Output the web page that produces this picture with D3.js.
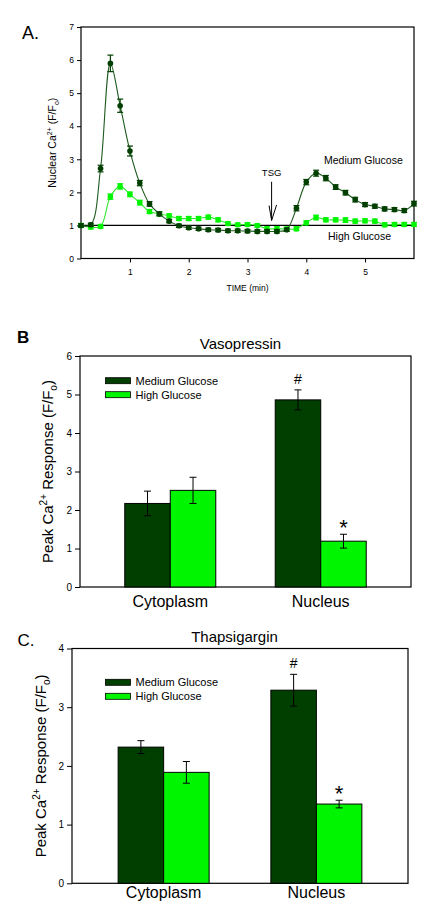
<!DOCTYPE html>
<html><head><meta charset="utf-8">
<script src="https://cdn.jsdelivr.net/npm/d3@7"></script>
<style>body{margin:0;background:#fff}svg{display:block;font-family:"Liberation Sans",Arial,sans-serif}</style>
</head><body>
<script>
// ---------- Panel A data ----------
const timeA = [0.167,0.333,0.5,0.667,0.833,1.0,1.167,1.333,1.5,1.667,1.833,2.0,2.167,2.333,2.5,2.667,2.833,3.0,3.167,3.333,3.5,3.667,3.833,4.0,4.167,4.333,4.5,4.667,4.833,5.0,5.167,5.333,5.5,5.667,5.833];
const mediumA = [1.0,1.02,2.72,5.9,4.62,3.25,2.28,1.65,1.35,1.13,0.99,0.93,0.9,0.87,0.86,0.84,0.84,0.83,0.82,0.82,0.82,0.87,1.52,2.31,2.58,2.43,2.16,1.99,1.78,1.63,1.58,1.5,1.48,1.45,1.66];
const mediumErrA = [0.05,0.05,0.1,0.25,0.2,0.15,0.08,0.07,0.06,0.05,0.05,0.05,0.05,0.05,0.05,0.05,0.05,0.05,0.05,0.05,0.05,0.05,0.08,0.08,0.09,0.08,0.07,0.07,0.07,0.06,0.06,0.06,0.06,0.06,0.07];
const highA = [1.0,0.95,0.97,1.87,2.18,1.94,1.69,1.42,1.35,1.29,1.21,1.21,1.21,1.25,1.17,1.06,1.02,1.03,1.0,0.9,0.9,0.89,0.9,1.08,1.24,1.17,1.17,1.16,1.13,1.14,1.13,1.02,1.03,1.03,1.03];
const highErrA = [0.06,0.06,0.05,0.08,0.08,0.07,0.07,0.06,0.06,0.06,0.06,0.06,0.06,0.06,0.06,0.05,0.05,0.05,0.05,0.06,0.06,0.06,0.06,0.06,0.07,0.06,0.06,0.07,0.06,0.06,0.06,0.06,0.06,0.06,0.06];
const xTicksA = [1,2,3,4,5];
const yTicksA = [0,1,2,3,4,5,6,7];
const tsgTime = 3.41;

// ---------- Panels B/C data ----------
const categories = ["Cytoplasm","Nucleus"];
const seriesNames = ["Medium Glucose","High Glucose"];
const vasoMedium = [2.17,4.86];
const vasoMediumErr = [0.32,0.26];
const vasoHigh = [2.51,1.19];
const vasoHighErr = [0.34,0.18];
const thapMedium = [2.32,3.29];
const thapMediumErr = [0.11,0.27];
const thapHigh = [1.89,1.35];
const thapHighErr = [0.185,0.065];
const yTicksB = [0,1,2,3,4,5,6];
const yTicksC = [0,1,2,3,4];

const DARK = "#003f00", LIGHT = "#00f500";
const DARKLINE = "#1f5a1f", LIGHTLINE = "#33e633";
const intFmt = d3.format("d");

const svg = d3.select("body").append("svg").attr("width",442).attr("height",912);

// ================= Panel A =================
(function(){
  const L=81,R=414,T=27,B=258.5;
  const x = d3.scaleLinear().domain([0.167,5.833]).range([L,R]);
  const y = d3.scaleLinear().domain([0,7]).range([B,T]);
  const g = svg.append("g");
  g.append("rect").attr("x",L).attr("y",T).attr("width",R-L).attr("height",B-T).attr("fill","none").attr("stroke","#000").attr("stroke-width",1.2);
  const ya = g.append("g").attr("transform",`translate(${L},0)`).call(d3.axisLeft(y).tickValues(yTicksA).tickFormat(intFmt).tickSize(4).tickSizeOuter(0));
  const xa = g.append("g").attr("transform",`translate(0,${B})`).call(d3.axisBottom(x).tickValues(xTicksA).tickFormat(intFmt).tickSize(4).tickPadding(6).tickSizeOuter(0));
  [ya,xa].forEach(a=>{a.select(".domain").remove();a.selectAll("text").attr("font-size",8.5).attr("font-family","Liberation Sans, Arial");});
  // baseline at 1
  g.append("line").attr("x1",L).attr("x2",R).attr("y1",y(1)).attr("y2",y(1)).attr("stroke","#000").attr("stroke-width",1.2);
  const series = [
    {vals:highA, err:highErrA, col:LIGHT, line:LIGHTLINE},
    {vals:mediumA, err:mediumErrA, col:DARK, line:DARKLINE}
  ];
  series.forEach(s=>{
    const pts = timeA.map((t,i)=>({t,v:s.vals[i],e:s.err[i]}));
    const line = d3.line().x(d=>x(d.t)).y(d=>y(d.v)).curve(d3.curveCatmullRom.alpha(0.5));
    g.append("path").attr("d",line(pts)).attr("fill","none").attr("stroke",s.line).attr("stroke-width",1.1);
    const eb = g.append("g").attr("stroke",s.col).attr("stroke-width",1.2);
    pts.forEach(d=>{
      eb.append("line").attr("x1",x(d.t)).attr("x2",x(d.t)).attr("y1",y(d.v-d.e)).attr("y2",y(d.v+d.e));
      eb.append("line").attr("x1",x(d.t)-3).attr("x2",x(d.t)+3).attr("y1",y(d.v-d.e)).attr("y2",y(d.v-d.e));
      eb.append("line").attr("x1",x(d.t)-3).attr("x2",x(d.t)+3).attr("y1",y(d.v+d.e)).attr("y2",y(d.v+d.e));
    });
    g.append("g").selectAll("circle").data(pts).join("circle")
      .attr("cx",d=>x(d.t)).attr("cy",d=>y(d.v)).attr("r",2.8).attr("fill",s.col);
  });
  // TSG arrow
  const ax = x(tsgTime);
  g.append("line").attr("x1",ax).attr("x2",ax).attr("y1",y(2.32)).attr("y2",y(1.15)).attr("stroke","#000");
  g.append("path").attr("d",`M${ax-2.5},${y(1.6)} L${ax},${y(1.15)} L${ax+5},${y(1.62)}`).attr("fill","none").attr("stroke","#000");
  g.append("text").attr("x",ax).attr("y",176).attr("text-anchor","middle").attr("font-size",9.5).text("TSG");
  g.append("text").attr("x",324).attr("y",164).attr("font-size",10.5).text("Medium Glucose");
  g.append("text").attr("x",328).attr("y",239.5).attr("font-size",10.5).text("High Glucose");
  g.append("text").attr("x",(L+R)/2).attr("y",291).attr("text-anchor","middle").attr("font-size",8.5).text("TIME (min)");
  const yl = g.append("text").attr("transform",`translate(56,${(T+B)/2}) rotate(-90)`).attr("text-anchor","middle").attr("font-size",10.5);
  yl.append("tspan").text("Nuclear Ca");
  yl.append("tspan").attr("font-size",7).attr("dy",-4).text("2+");
  yl.append("tspan").attr("dy",4).text(" (F/F");
  yl.append("tspan").attr("font-size",7).attr("dy",3).text("o");
  yl.append("tspan").attr("dy",-3).text(")");
  svg.append("text").attr("x",22).attr("y",39).attr("font-size",18).text("A.");
})();

// ================= Panels B/C =================
function barPanel(o){
  const {L,R,T,B,ymax,ticks,med,medErr,high,highErr,title,titleX,titleY,label,labelX,labelY,labelBold,legY,catY,ylabX} = o;
  const g = svg.append("g");
  const x = d3.scalePoint().domain(categories).range([L,R]).padding(0.6);
  const y = d3.scaleLinear().domain([0,ymax]).range([B,T]);
  const bw = 45.5;
  g.append("rect").attr("x",L).attr("y",T).attr("width",R-L).attr("height",B-T).attr("fill","none").attr("stroke","#000").attr("stroke-width",1.2);
  const ya = g.append("g").attr("transform",`translate(${L},0)`).call(d3.axisLeft(y).tickValues(ticks).tickFormat(intFmt).tickSize(5).tickSizeOuter(0));
  ya.select(".domain").remove();
  ya.selectAll("text").attr("font-size",10).attr("font-family","Liberation Sans, Arial");
  const data = [];
  categories.forEach((c,i)=>{
    data.push({c,v:med[i],e:medErr[i],col:DARK,off:-bw,mark:i===1?"#":null});
    data.push({c,v:high[i],e:highErr[i],col:LIGHT,off:0,mark:i===1?"*":null});
  });
  g.selectAll("rect.bar").data(data).join("rect").attr("class","bar")
    .attr("x",d=>x(d.c)+d.off).attr("y",d=>y(d.v)).attr("width",bw).attr("height",d=>B-y(d.v))
    .attr("fill",d=>d.col).attr("stroke","#000").attr("stroke-width",1);
  data.forEach(d=>{
    const cx = x(d.c)+d.off+bw/2;
    g.append("line").attr("x1",cx).attr("x2",cx).attr("y1",y(d.v-d.e)).attr("y2",y(d.v+d.e)).attr("stroke","#000");
    [d.v-d.e,d.v+d.e].forEach(v=>g.append("line").attr("x1",cx-3.5).attr("x2",cx+3.5).attr("y1",y(v)).attr("y2",y(v)).attr("stroke","#000"));
    if(d.mark==="#") g.append("text").attr("x",cx).attr("y",y(d.v+d.e)-6).attr("text-anchor","middle").attr("font-size",14).text("#");
    if(d.mark==="*") g.append("text").attr("x",cx).attr("y",y(d.v+d.e)+1).attr("text-anchor","middle").attr("font-size",22).text("*");
  });
  categories.forEach(c=>g.append("text").attr("x",x(c)).attr("y",catY).attr("text-anchor","middle").attr("font-size",16).text(c));
  // legend
  seriesNames.forEach((n,i)=>{
    const yy = legY + i*14;
    g.append("rect").attr("x",105.5).attr("y",yy-3).attr("width",25).attr("height",6).attr("fill",i?LIGHT:DARK).attr("stroke","#000").attr("stroke-width",0.8);
    g.append("text").attr("x",135.5).attr("y",yy+4).attr("font-size",11).text(n);
  });
  g.append("text").attr("x",titleX).attr("y",titleY).attr("text-anchor","middle").attr("font-size",15).text(title);
  const yl = g.append("text").attr("transform",`translate(${ylabX},${(T+B)/2}) rotate(-90)`).attr("text-anchor","middle").attr("font-size",15);
  yl.append("tspan").text("Peak Ca");
  yl.append("tspan").attr("font-size",10).attr("dy",-6).text("2+");
  yl.append("tspan").attr("dy",6).text(" Response (F/F");
  yl.append("tspan").attr("font-size",10).attr("dy",4).text("o");
  yl.append("tspan").attr("dy",-4).text(")");
  svg.append("text").attr("x",labelX).attr("y",labelY).attr("font-size",17).attr("font-weight",labelBold?"bold":"normal").text(label);
}

barPanel({L:80,R:411,T:356,B:587,ymax:6,ticks:yTicksB,med:vasoMedium,medErr:vasoMediumErr,high:vasoHigh,highErr:vasoHighErr,
  title:"Vasopressin",titleX:240.5,titleY:349,label:"B",labelX:17,labelY:343,labelBold:true,legY:380.7,catY:607,ylabX:53});
barPanel({L:72,R:408,T:648.5,B:883.3,ymax:4,ticks:yTicksC,med:thapMedium,medErr:thapMediumErr,high:thapHigh,highErr:thapHighErr,
  title:"Thapsigargin",titleX:234.5,titleY:642,label:"C.",labelX:17.5,labelY:646,labelBold:false,legY:682.3,catY:898,ylabX:46});
</script>
</body></html>
